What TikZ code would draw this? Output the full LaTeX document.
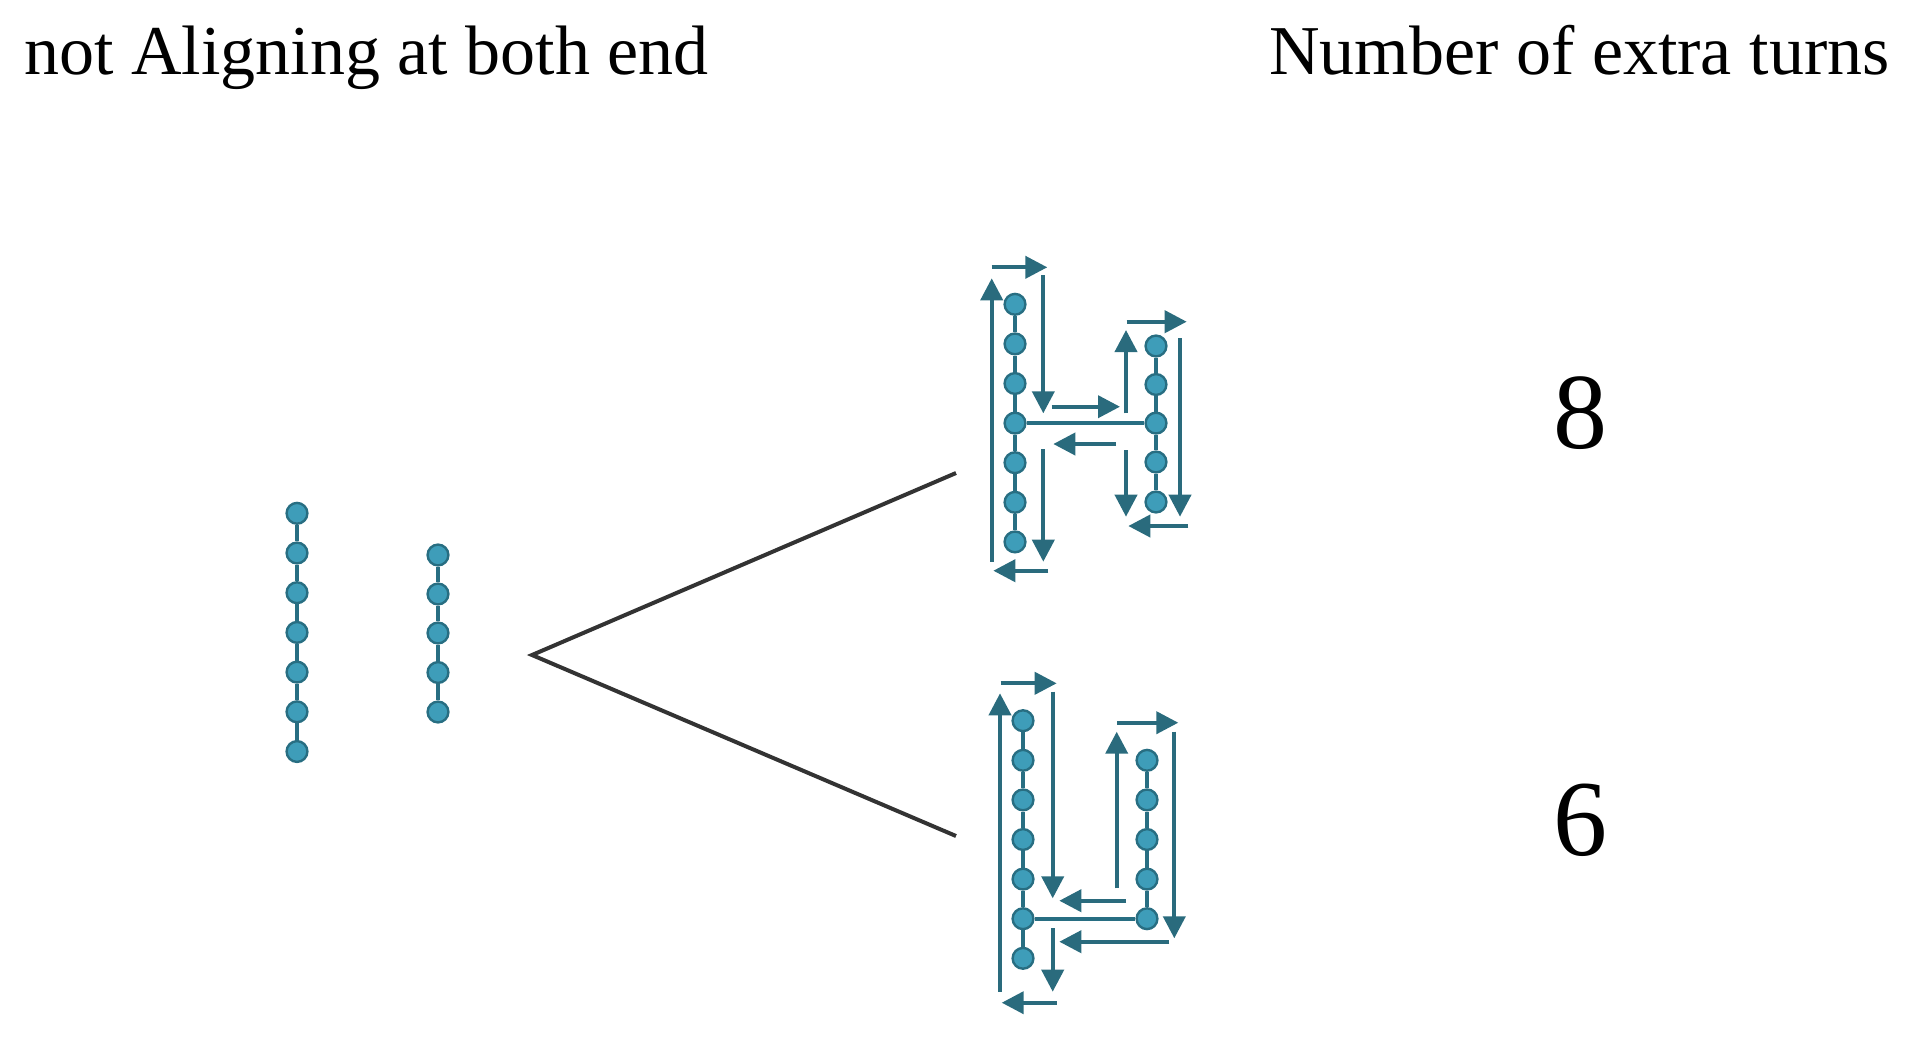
\documentclass[tikz,border=0pt]{standalone}
\usepackage{fontspec}
\setmainfont{Liberation Serif}
\usetikzlibrary{arrows.meta}
\definecolor{beadfill}{HTML}{3E9DB9}
\definecolor{beadline}{HTML}{286E82}
\definecolor{arrowcol}{HTML}{2A6B7D}
\definecolor{linegray}{HTML}{333333}
\tikzset{
  bead/.style={circle, minimum size=10.4pt, inner sep=0pt, fill=beadfill, draw=beadline, line width=1.2pt},
  chain/.style={draw=beadline, line width=2pt},
  turnarrow/.style={draw=arrowcol, line width=2pt, -{Triangle[length=11pt,width=11pt]}},
  branch/.style={draw=linegray, line width=2pt},
  title/.style={font=\fontsize{35pt}{40pt}\selectfont, inner sep=0pt, anchor=base west},
  count/.style={font=\fontsize{54pt}{60pt}\selectfont, inner sep=0pt, anchor=base}
}
\begin{document}
\begin{tikzpicture}[x=0.5pt,y=-0.5pt]
\useasboundingbox (0,0) rectangle (1915,1051);

% titles
\node[title] (t1) at (24,74) {not Aligning at both end};
\node[title] (t2) at (1269,74) {Number of extra turns};

% left chains
\foreach \i/\y in {1/513.3,2/553.0,3/592.7,4/632.4,5/672.1,6/711.8,7/751.5}
  \node[bead] (l\i) at (297,\y) {};
\foreach \i/\y in {1/555,2/594,3/633,4/672.5,5/712}
  \node[bead] (m\i) at (438,\y) {};
\foreach \i [evaluate=\i as \j using int(\i+1)] in {1,...,6} \draw[chain] (l\i) -- (l\j);
\foreach \i [evaluate=\i as \j using int(\i+1)] in {1,...,4} \draw[chain] (m\i) -- (m\j);

% branches
\coordinate (apex) at (532,655);
\coordinate (up) at (956,473);
\coordinate (dn) at (956,836);
\draw[branch, line join=miter] (up) -- (apex) -- (dn);

% top H
\foreach \i/\y in {1/304.3,2/343.9,3/383.5,4/423.1,5/462.7,6/502.3,7/541.9}
  \node[bead] (a\i) at (1015,\y) {};
\foreach \i/\y in {1/346,2/384.5,3/423.1,4/462,5/502}
  \node[bead] (b\i) at (1156,\y) {};
\foreach \i [evaluate=\i as \j using int(\i+1)] in {1,...,6} \draw[chain] (a\i) -- (a\j);
\foreach \i [evaluate=\i as \j using int(\i+1)] in {1,...,4} \draw[chain] (b\i) -- (b\j);
\draw[chain] (a4) -- (b3);

\draw[turnarrow] (991.7,561.7) -- (991.7,278.3);
\draw[turnarrow] (991.7,267.3) -- (1047.3,267.3);
\draw[turnarrow] (1043.3,275) -- (1043.3,413.3);
\draw[turnarrow] (1051.7,406.7) -- (1120,406.7);
\draw[turnarrow] (1126,413.3) -- (1126,330);
\draw[turnarrow] (1126.7,321.7) -- (1186.7,321.7);
\draw[turnarrow] (1180,338.3) -- (1180,516.7);
\draw[turnarrow] (1188.3,526) -- (1128.3,526);
\draw[turnarrow] (1126,450) -- (1126,516.7);
\draw[turnarrow] (1116,444) -- (1053.3,444);
\draw[turnarrow] (1043.3,449.3) -- (1043.3,561.7);
\draw[turnarrow] (1048.3,570.7) -- (993.3,570.7);

% bottom shape
\foreach \i/\y in {1/720.7,2/760.3,3/799.9,4/839.5,5/879.1,6/918.7,7/958.3}
  \node[bead] (c\i) at (1023,\y) {};
\foreach \i/\y in {1/760.3,2/799.9,3/839.5,4/879.1,5/918.7}
  \node[bead] (d\i) at (1147,\y) {};
\foreach \i [evaluate=\i as \j using int(\i+1)] in {1,...,6} \draw[chain] (c\i) -- (c\j);
\foreach \i [evaluate=\i as \j using int(\i+1)] in {1,...,4} \draw[chain] (d\i) -- (d\j);
\draw[chain] (c6) -- (d5);

\draw[turnarrow] (1000,991.7) -- (1000,693.3);
\draw[turnarrow] (1000.7,683.3) -- (1056.7,683.3);
\draw[turnarrow] (1052.7,691.7) -- (1052.7,898.3);
\draw[turnarrow] (1126,900.7) -- (1059.3,900.7);
\draw[turnarrow] (1116.7,888.3) -- (1116.7,731.7);
\draw[turnarrow] (1117.3,722.7) -- (1178.3,722.7);
\draw[turnarrow] (1174.3,731.7) -- (1174.3,938.3);
\draw[turnarrow] (1169.3,941.7) -- (1059.3,941.7);
\draw[turnarrow] (1052.7,928.3) -- (1052.7,991.7);
\draw[turnarrow] (1056.7,1002.7) -- (1001.7,1002.7);

% counts
\node[count] (n8) at (1580,448) {8};
\node[count] (n6) at (1580,855) {6};
\end{tikzpicture}
\end{document}
